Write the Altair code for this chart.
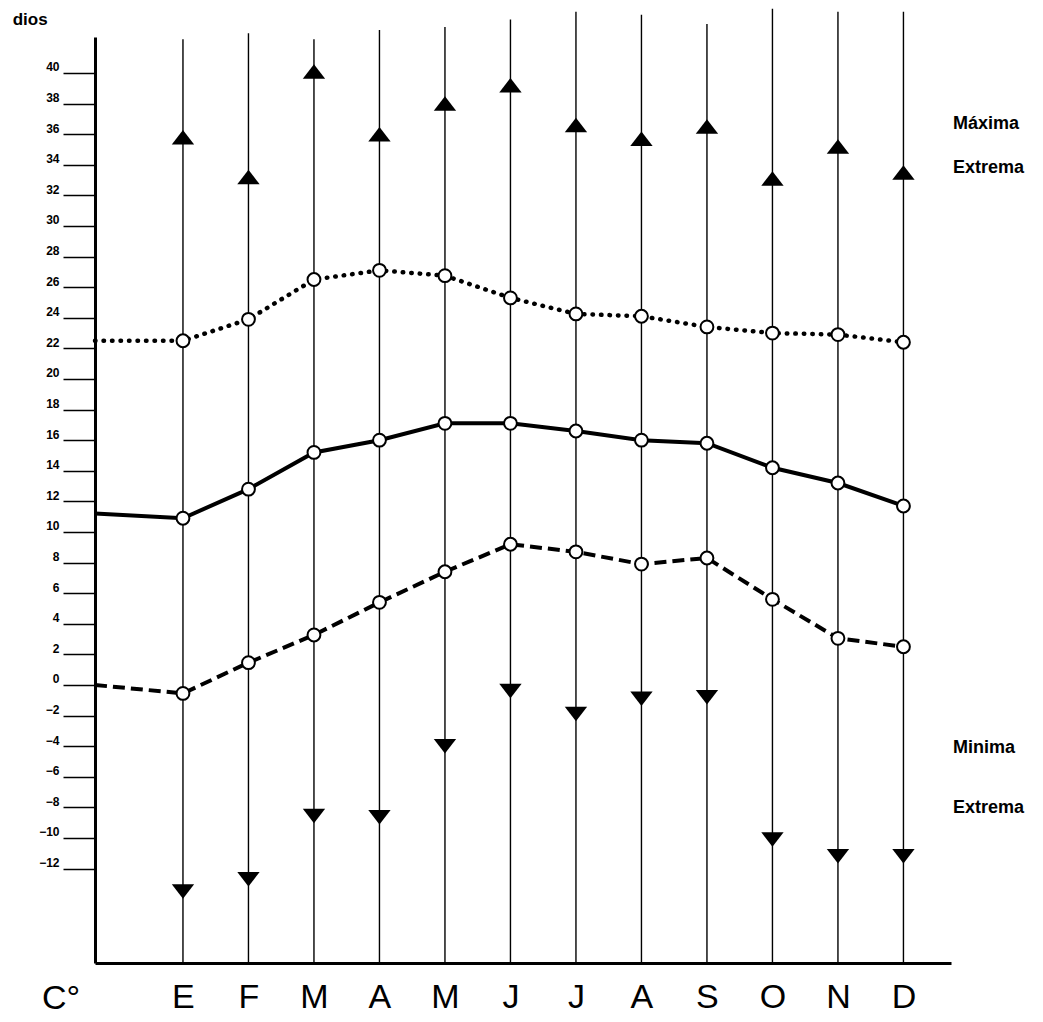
import json
import altair as alt
import pandas as pd

# ---- data ----
MONTHS = ["E", "F", "M", "A", "M", "J", "J", "A", "S", "O", "N", "D"]
MONTH_POS = [1, 2, 3, 4, 5, 6, 7, 8, 9, 10, 11, 12]

# top end of each month's vertical line (°C units)
LINE_TOP = [42.2, 42.6, 42.2, 42.8, 43.0, 43.5, 44.0, 43.8, 43.2, 44.2, 44.0, 44.0]

MAX_EXTREME = [35.8, 33.2, 40.1, 36.0, 38.0, 39.2, 36.6, 35.7, 36.5, 33.1, 35.2, 33.5]
MAX_MEAN = [22.5, 23.9, 26.5, 27.1, 26.75, 25.3, 24.25, 24.1, 23.4, 23.0, 22.9, 22.4]
MEAN = [10.9, 12.8, 15.2, 16.0, 17.1, 17.1, 16.6, 16.0, 15.8, 14.2, 13.2, 11.7]
MIN_MEAN = [-0.55, 1.46, 3.27, 5.4, 7.4, 9.2, 8.7, 7.9, 8.3, 5.6, 3.05, 2.5]
MIN_EXTREME = [-13.5, -12.7, -8.56, -8.65, -4.0, -0.4, -1.9, -0.9, -0.8, -10.1, -11.2, -11.2]

# value of each curve where it meets the left axis
START_MAX_MEAN = 22.5
START_MEAN = 11.2
START_MIN_MEAN = 0.0

X_DOMAIN = [-0.343, 12.726]
Y_DOMAIN = [-18.17, 42.35]
Y_TICKS = list(range(-12, 41, 2))

RIGHT_LABELS = ["Máxima", "Extrema", "Minima", "Extrema"]
RIGHT_LABEL_Y = [36.67, 33.8, -4.12, -8.04]
RIGHT_LABEL_X = 12.756

# ---- chart ----
FONT = "Liberation Sans"
xs = alt.Scale(domain=X_DOMAIN, nice=False, zero=False)
ys = alt.Scale(domain=Y_DOMAIN, nice=False, zero=False)

x_axis = alt.Axis(
    values=MONTH_POS,
    labelExpr=json.dumps(MONTHS) + "[datum.value - 1]",
    title=None, grid=False, ticks=False, tickSize=0,
    labelFontSize=34, labelFont=FONT, labelColor="black",
    labelPadding=17, labelOverlap=False, labelFlush=False, labelBound=False,
    domainColor="black", domainWidth=3,
)
y_axis = alt.Axis(
    values=Y_TICKS,
    labelExpr="datum.value < 0 ? '\u2212' + abs(datum.value) : '' + datum.value",
    title=None, grid=False, tickSize=32, tickWidth=1.5, tickColor="black",
    labelFontSize=12, labelFont=FONT, labelFontWeight="bold", labelColor="black",
    labelPadding=4, labelBaseline="alphabetic", labelOffset=-2,
    labelOverlap=False, labelFlush=False,
    domainColor="black", domainWidth=3,
)

X = alt.X("x:Q", scale=xs, axis=x_axis)


def Y(field):
    return alt.Y(field, scale=ys, axis=y_axis)


rule_df = pd.DataFrame({"x": MONTH_POS, "top": LINE_TOP, "bottom": [Y_DOMAIN[0]] * 12})
rules = alt.Chart(rule_df).mark_rule(color="black", strokeWidth=1.4).encode(
    x=X, y=Y("top:Q"), y2="bottom:Q"
)


def curve_df(start, values):
    return pd.DataFrame({"x": [X_DOMAIN[0]] + MONTH_POS, "y": [start] + values})


def month_df(values):
    return pd.DataFrame({"x": MONTH_POS, "y": values})


dotted = alt.Chart(curve_df(START_MAX_MEAN, MAX_MEAN)).mark_line(
    color="black", strokeWidth=4.5, strokeDash=[0.5, 8], strokeCap="round"
).encode(x=X, y=Y("y:Q"))
solid = alt.Chart(curve_df(START_MEAN, MEAN)).mark_line(
    color="black", strokeWidth=4
).encode(x=X, y=Y("y:Q"))
dashed = alt.Chart(curve_df(START_MIN_MEAN, MIN_MEAN)).mark_line(
    color="black", strokeWidth=4, strokeDash=[12, 6]
).encode(x=X, y=Y("y:Q"))


def circles(values):
    return alt.Chart(month_df(values)).mark_point(
        shape="circle", filled=True, fill="white", stroke="black",
        strokeWidth=2, size=165, opacity=1
    ).encode(x=X, y=Y("y:Q"))


UP = "M0,-0.65L1,0.65L-1,0.65Z"
DOWN = "M-1,-0.65L1,-0.65L0,0.65Z"

tri_up = alt.Chart(month_df(MAX_EXTREME)).mark_point(
    shape=UP, filled=True, color="black", size=500, opacity=1, strokeWidth=0
).encode(x=X, y=Y("y:Q"))
tri_down = alt.Chart(month_df(MIN_EXTREME)).mark_point(
    shape=DOWN, filled=True, color="black", size=500, opacity=1, strokeWidth=0
).encode(x=X, y=Y("y:Q"))

right_df = pd.DataFrame({"x": [RIGHT_LABEL_X] * 4, "y": RIGHT_LABEL_Y, "t": RIGHT_LABELS})
right_text = alt.Chart(right_df).mark_text(
    align="left", baseline="middle", font=FONT, fontWeight="bold", fontSize=18, color="black"
).encode(x=X, y=Y("y:Q"), text="t:N")

unit_df = pd.DataFrame({"x": [-0.862], "y": [-20.55], "t": ["C°"]})
unit_text = alt.Chart(unit_df).mark_text(
    align="center", baseline="middle", font=FONT, fontSize=34, color="black"
).encode(x=X, y=Y("y:Q"), text="t:N")

corner_df = pd.DataFrame({"x": [-1.6], "y": [43.45], "t": ["dios"]})
corner_text = alt.Chart(corner_df).mark_text(
    align="left", baseline="middle", font=FONT, fontWeight="bold", fontSize=17, color="black"
).encode(x=X, y=Y("y:Q"), text="t:N")

chart = alt.layer(
    rules, dotted, solid, dashed,
    circles(MAX_MEAN), circles(MEAN), circles(MIN_MEAN),
    tri_up, tri_down, right_text, unit_text, corner_text,
).properties(
    width=856, height=926,
    autosize=alt.AutoSizeParams(type="none"),
    padding={"left": 87, "top": 29, "right": 80, "bottom": 55},
    background="white",
).configure_view(stroke=None)

chart.save("out.html", embed_options={"renderer": "svg", "actions": False})
